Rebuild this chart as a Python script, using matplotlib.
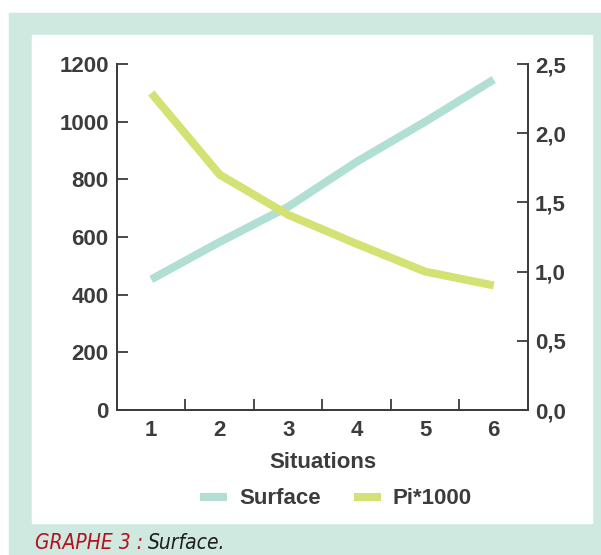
import matplotlib
matplotlib.use('Agg')
import matplotlib.pyplot as plt
from matplotlib.patches import Rectangle
from matplotlib.ticker import FuncFormatter

# data
situations = [1, 2, 3, 4, 5, 6]
surface = [453, 583, 705, 861, 1000, 1146]
pi_1000 = [2.29, 1.70, 1.41, 1.20, 1.00, 0.90]

mint = '#cfe9e1'
c_surface = '#b2dfd4'
c_pi = '#d4e273'
dark = '#3c3c3c'

plt.rcParams['font.family'] = ['Liberation Sans', 'DejaVu Sans']
plt.rcParams['font.weight'] = 'bold'

fig = plt.figure(figsize=(6.01, 5.55), dpi=100)
W, H = 601.0, 555.0
# mint frame and white panel
fig.patches.append(Rectangle((9 / W, 0), 592 / W, (H - 13) / H,
                             transform=fig.transFigure, color=mint, zorder=-10))
fig.patches.append(Rectangle((32 / W, 1 - 523 / H), 560 / W, 488 / H,
                             transform=fig.transFigure, color='white', zorder=-9))

ax = fig.add_axes([117 / W, 1 - 410 / H, 411 / W, 346 / H])
ax.patch.set_alpha(0)
ax2 = ax.twinx()

ax.plot(situations, surface, color=c_surface, lw=5.8, solid_capstyle='butt',
        solid_joinstyle='miter', label='Surface', zorder=3)
ax2.plot(situations, pi_1000, color=c_pi, lw=5.8, solid_capstyle='butt',
         solid_joinstyle='miter', label='Pi*1000', zorder=2)

ax.set_xlim(0.5, 6.5)
ax.set_ylim(0, 1200)
ax2.set_ylim(0, 2.5)

ax.set_xticks(situations)
ax.set_xticks([1.5, 2.5, 3.5, 4.5, 5.5], minor=True)
ax.tick_params(axis='x', which='major', length=0, pad=7, labelsize=16, labelcolor=dark)
ax.tick_params(axis='x', which='minor', direction='in', length=8, width=1.3, color=dark)
ax.set_yticks([0, 200, 400, 600, 800, 1000, 1200])
ax.tick_params(axis='y', direction='in', length=8, width=1.3, color=dark,
               pad=6, labelsize=16, labelcolor=dark)
ax2.set_yticks([0, 0.5, 1.0, 1.5, 2.0, 2.5])
ax2.yaxis.set_major_formatter(FuncFormatter(lambda v, p: ('%.1f' % v).replace('.', ',')))
ax2.tick_params(axis='y', direction='in', length=8, width=1.3, color=dark,
                pad=5, labelsize=16, labelcolor=dark)

for a in (ax, ax2):
    a.spines['top'].set_visible(False)
    for s in ('left', 'right', 'bottom'):
        a.spines[s].set_color(dark)
        a.spines[s].set_linewidth(1.3)

ax.set_xlabel('Situations', fontsize=16, fontweight='bold', color=dark, labelpad=8)

h1, l1 = ax.get_legend_handles_labels()
h2, l2 = ax2.get_legend_handles_labels()
fig.legend(h1 + h2, l1 + l2, loc='center', bbox_to_anchor=(336 / W, 1 - 499 / H),
           ncol=2, frameon=False, fontsize=16, labelcolor=dark,
           handlelength=1.2, handletextpad=0.55, columnspacing=1.5)

cap_font = ['DejaVu Sans']
t1 = fig.text(35 / W, 1 - 553 / H, 'GRAPHE 3 :', color='#b2121e', fontsize=15,
              style='italic', weight='medium', stretch='condensed',
              family=cap_font, va='bottom')
fig.canvas.draw()
bb = t1.get_window_extent()
fig.text((bb.x1 + 5) / W, 1 - 553 / H, 'Surface.', color='#1e1e1e', fontsize=15,
         style='italic', weight='medium', stretch='condensed',
         family=cap_font, va='bottom')

fig.savefig('out.png', dpi=100)
